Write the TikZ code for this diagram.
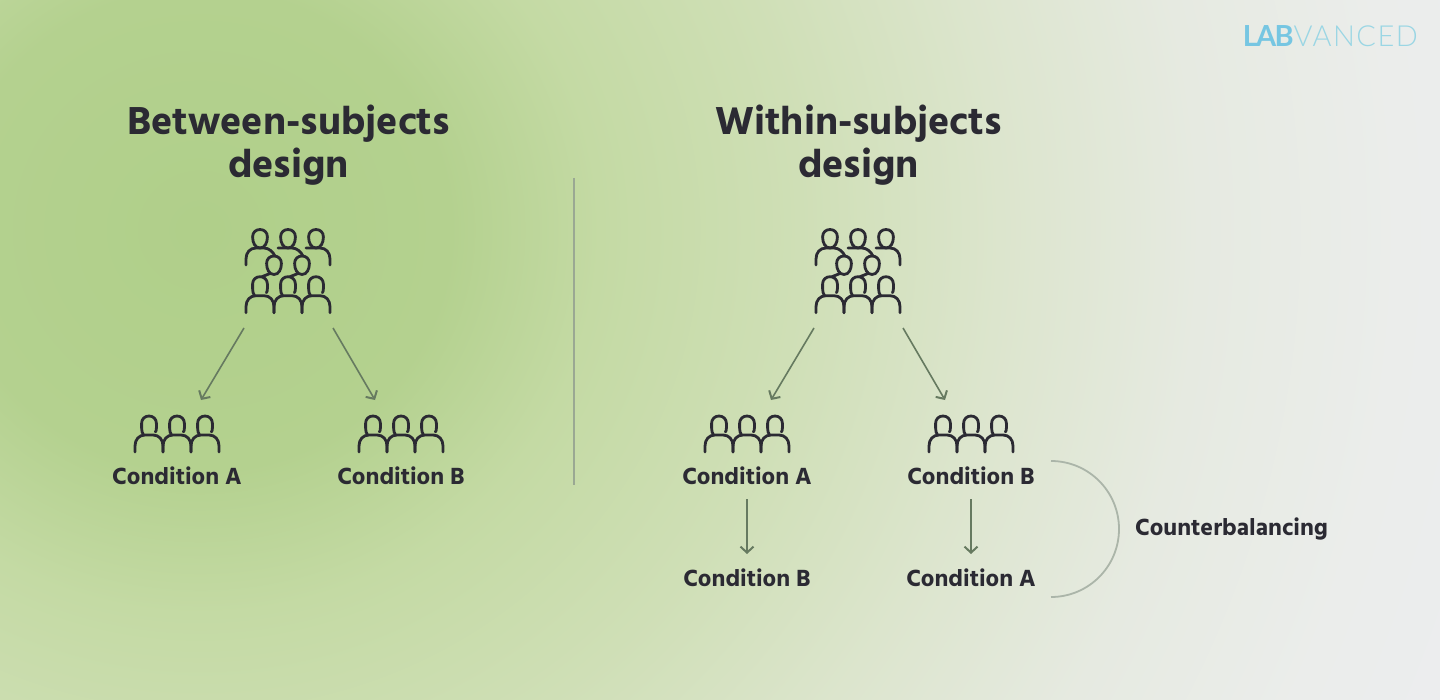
\documentclass[tikz,border=0pt]{standalone}
\usepackage{fontspec}
\usepackage{xcolor}
\usetikzlibrary{arrows.meta}
\setmainfont{Hind Siliguri}[BoldFont=* Bold]
\newfontfamily\logobold{Lato}[UprightFont=* Bold,LetterSpace=-6]
\newfontfamily\logothin{Lato}[UprightFont=* Light,LetterSpace=5]

\definecolor{inkdark}{HTML}{2B2A33}
\definecolor{arrowgreen}{HTML}{667A60}
\definecolor{rulegrey}{HTML}{9AA893}
\definecolor{arcgrey}{HTML}{ABB5A9}
\definecolor{logoblue}{HTML}{76C6E2}
\definecolor{logoteal}{HTML}{9AD6E4}
\definecolor{glowA}{RGB}{176,207,138}
\definecolor{glowB}{RGB}{180,209,143}
\definecolor{glowC}{RGB}{196,218,164}
\definecolor{glowD}{RGB}{207,223,182}
\definecolor{glowE}{RGB}{220,229,205}
\definecolor{glowF}{RGB}{230,234,225}
\definecolor{glowG}{RGB}{235,237,235}
\definecolor{glowH}{RGB}{236,237,240}

\pgfdeclareradialshading{bgglow}{\pgfpoint{0bp}{0bp}}{
  color(0bp)=(glowA);
  color(5bp)=(glowB);
  color(8bp)=(glowC);
  color(12bp)=(glowD);
  color(16bp)=(glowE);
  color(20bp)=(glowF);
  color(24bp)=(glowG);
  color(28bp)=(glowH);
  color(50bp)=(glowH)}

\tikzset{
  title/.style={font=\bfseries\fontsize{40}{43}\selectfont, text=inkdark, align=center, inner sep=0pt, anchor=base},
  condlabel/.style={font=\bfseries\fontsize{24}{27}\selectfont, text=inkdark, inner sep=0pt, anchor=base},
  flow/.style={draw=arrowgreen, line width=1.6pt, -{Straight Barb[length=6pt,width=13pt,line width=2pt]}},
  icon/.style={draw=inkdark, line width=2.8pt, line cap=round, line join=round},
  round head/.pic={
    \draw[icon] (0,0) .. controls (4.4,0) and (7.4,3) .. (7.4,7.5) .. controls (7.4,13) and (5,18.5) .. (0,18.5) .. controls (-5,18.5) and (-7.4,13) .. (-7.4,7.5) .. controls (-7.4,3) and (-4.4,0) .. (0,0) -- cycle;
  },
  front person/.pic={
    \draw[icon] (-5.5,19) .. controls (-6.8,17) and (-7.4,15) .. (-7.4,12) -- (-7.4,7.4) .. controls (-7.4,3) and (-4.2,0) .. (0,0) .. controls (4.2,0) and (7.4,3) .. (7.4,7.4) -- (7.4,12) .. controls (7.4,14) and (7,15) .. (6.4,16);
    \draw[icon] (-14,36) -- (-14,30) .. controls (-14,23.5) and (-10,19) .. (-4,19) -- (4,19) .. controls (10,19) and (14,23.5) .. (14,30) -- (14,36);
  },
  front row/.pic={
    \pic at (-28,0) {front person};
    \pic at (0,0) {front person};
    \pic at (28,0) {front person};
  },
  crowd/.pic={
    \pic at (-28,0.5) {round head};
    \pic at (0,0.5) {round head};
    \pic at (28,0.5) {round head};
    \draw[icon] (-42,36) -- (-42,30) .. controls (-42,23.5) and (-38,19) .. (-32,19) -- (-24,19) .. controls (-19,19) and (-15,23) .. (-13,27);
    \draw[icon] (-10,19) -- (4,19) .. controls (9,19) and (13,23) .. (15,27);
    \draw[icon] (18,19) -- (32,19) .. controls (38,19) and (42,23.5) .. (42,30) -- (42,36);
    \pic at (-14,27) {round head};
    \pic at (14,27) {round head};
    \draw[icon] (-26,47.7) -- (-18,44.5);
    \draw[icon] (2,47.7) -- (10,44.5);
    \pic at (0,47.7) {front row};
  }
}

\begin{document}
\begin{tikzpicture}[x=1pt,y=-1pt]
\useasboundingbox (0,0) rectangle (1440,700);
\clip (0,0) rectangle (1440,700);
\shade[shading=bgglow] (-1050,-970) rectangle (1450,1430);

\node[title] (titleBetween) at (288.5,178) {Between-subjects\\design};
\node[title] (titleWithin) at (858.5,178) {Within-subjects\\design};

\node[inner sep=0pt,anchor=base east,font=\fontsize{29}{29}\selectfont] (logo) at (1418,47) {{\color{logoblue}\logobold LAB}{\color{logoteal}\logothin VANCED}};

\coordinate (ruleTop) at (574,178);
\coordinate (ruleBottom) at (574,485);
\draw[draw=rulegrey,line width=1.4pt] (ruleTop) -- (ruleBottom);

\pic at (288,229) {crowd};
\pic at (858,229) {crowd};
\pic at (177,416) {front row};
\pic at (401,416) {front row};
\pic at (747,416) {front row};
\pic at (971,416) {front row};

\node[condlabel] (betweenA) at (177,484) {Condition A};
\node[condlabel] (betweenB) at (401,484) {Condition B};
\node[condlabel] (withinA) at (747,484) {Condition A};
\node[condlabel] (withinB) at (971,484) {Condition B};
\node[condlabel] (withinAthenB) at (747,586) {Condition B};
\node[condlabel] (withinBthenA) at (971,586) {Condition A};
\node[condlabel] (counter) at (1231.5,535) {Counterbalancing};

\coordinate (splitBetweenL) at (244,328);
\coordinate (endBetweenL) at (201,400);
\coordinate (splitBetweenR) at (333,328);
\coordinate (endBetweenR) at (375,400);
\coordinate (splitWithinL) at (814,328);
\coordinate (endWithinL) at (771,400);
\coordinate (splitWithinR) at (903,328);
\coordinate (endWithinR) at (945,400);
\coordinate (orderAtop) at (747,499);
\coordinate (orderAend) at (747,554);
\coordinate (orderBtop) at (971,499);
\coordinate (orderBend) at (971,554);
\coordinate (arcStart) at (1051,461);

\draw[flow] (splitBetweenL) -- (endBetweenL);
\draw[flow] (splitBetweenR) -- (endBetweenR);
\draw[flow] (splitWithinL) -- (endWithinL);
\draw[flow] (splitWithinR) -- (endWithinR);
\draw[flow] (orderAtop) -- (orderAend);
\draw[flow] (orderBtop) -- (orderBend);

\draw[draw=arcgrey,line width=1.8pt] (arcStart) arc [start angle=-90,end angle=90,radius=68];
\end{tikzpicture}
\end{document}
